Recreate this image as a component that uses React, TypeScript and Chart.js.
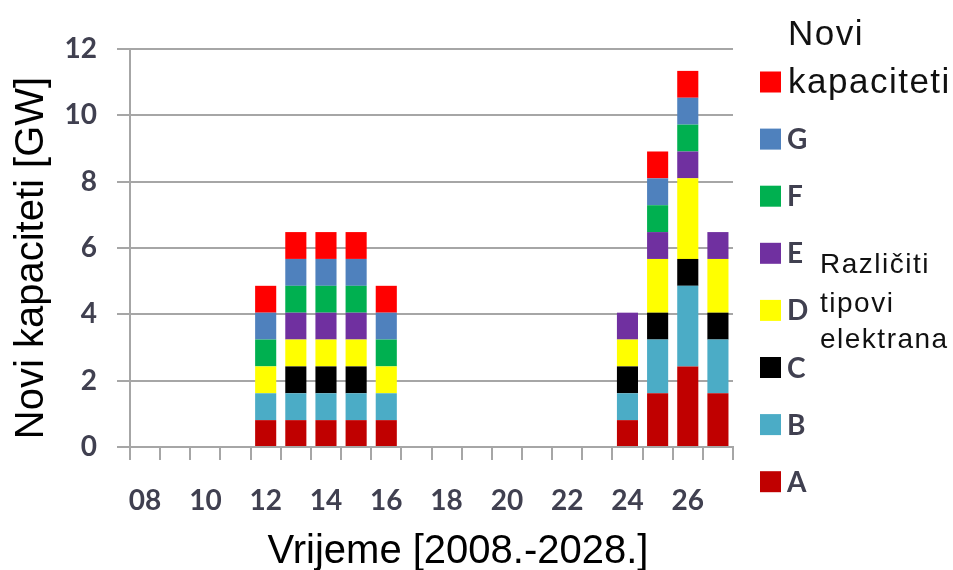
import React, { useEffect, useRef } from 'react';
import { Chart, registerables } from 'chart.js';

Chart.register(...registerables);

const categories = ['08', '09', '10', '11', '12', '13', '14', '15', '16', '17', '18', '19', '20', '21', '22', '23', '24', '25', '26', '27'];
const shownTickLabels = ['08', '10', '12', '14', '16', '18', '20', '22', '24', '26'];

const seriesA = [0, 0, 0, 0, 0.81, 0.81, 0.81, 0.81, 0.81, 0, 0, 0, 0, 0, 0, 0, 0.81, 1.62, 2.43, 1.62];
const seriesB = [0, 0, 0, 0, 0.81, 0.81, 0.81, 0.81, 0.81, 0, 0, 0, 0, 0, 0, 0, 0.81, 1.62, 2.43, 1.62];
const seriesC = [0, 0, 0, 0, 0, 0.81, 0.81, 0.81, 0, 0, 0, 0, 0, 0, 0, 0, 0.81, 0.81, 0.81, 0.81];
const seriesD = [0, 0, 0, 0, 0.81, 0.81, 0.81, 0.81, 0.81, 0, 0, 0, 0, 0, 0, 0, 0.81, 1.62, 2.43, 1.62];
const seriesE = [0, 0, 0, 0, 0, 0.81, 0.81, 0.81, 0, 0, 0, 0, 0, 0, 0, 0, 0.81, 0.81, 0.81, 0.81];
const seriesF = [0, 0, 0, 0, 0.81, 0.81, 0.81, 0.81, 0.81, 0, 0, 0, 0, 0, 0, 0, 0, 0.81, 0.81, 0];
const seriesG = [0, 0, 0, 0, 0.81, 0.81, 0.81, 0.81, 0.81, 0, 0, 0, 0, 0, 0, 0, 0, 0.81, 0.81, 0];
const seriesNovi = [0, 0, 0, 0, 0.81, 0.81, 0.81, 0.81, 0.81, 0, 0, 0, 0, 0, 0, 0, 0, 0.81, 0.81, 0];

const seriesLabels = ['A', 'B', 'C', 'D', 'E', 'F', 'G', 'Novi kapaciteti'];
const seriesColors = ['#C00000', '#4BACC6', '#000000', '#FFFF00', '#7030A0', '#00B050', '#4F81BD', '#FF0000'];
const seriesValues = [seriesA, seriesB, seriesC, seriesD, seriesE, seriesF, seriesG, seriesNovi];

const yMin = 0;
const yMax = 12;
const yStep = 2;

const yTitle = 'Novi kapaciteti [GW]';
const xTitle = 'Vrijeme [2008.-2028.]';
const noteLines = ['Različiti', 'tipovi', 'elektrana'];

const overlayPlugin = {
  id: 'overlay',
  afterDraw(chart: any) {
    const ctx = chart.ctx as CanvasRenderingContext2D;
    ctx.save();
    // custom legend (reversed order)
    const ds = chart.data.datasets.slice().reverse();
    const x0 = 760;
    const size = 21;
    const top = 82;
    const gap = 57.1;
    ctx.textAlign = 'left';
    ctx.textBaseline = 'alphabetic';
    ds.forEach((d: any, i: number) => {
      const cy = top + i * gap;
      ctx.fillStyle = d.backgroundColor;
      ctx.fillRect(x0, cy - size / 2, size, size);
      const words = String(d.label).split(' ');
      if (words.length > 1) {
        ctx.font = '35px "Liberation Sans"';
        (ctx as any).letterSpacing = '1.5px';
        ctx.fillStyle = '#111111';
        ctx.fillText(words.slice(1).join(' '), 788, cy + 11);
        ctx.fillText(words[0], 788, cy - 37);
      } else {
        ctx.font = 'bold 28px Lato';
        (ctx as any).letterSpacing = '0px';
        ctx.fillStyle = '#404050';
        ctx.fillText(d.label, 787, cy + 10);
      }
    });
    // annotation
    ctx.font = '28px "Liberation Sans"';
    (ctx as any).letterSpacing = '1.5px';
    ctx.fillStyle = '#111111';
    const noteY = [273, 312, 348];
    noteLines.forEach((t, i) => ctx.fillText(t, 820, noteY[i]));
    // axis titles
    (ctx as any).letterSpacing = '0px';
    ctx.font = '40px "Liberation Sans"';
    ctx.fillStyle = '#000000';
    ctx.textAlign = 'center';
    ctx.fillText(xTitle, 458, 563);
    ctx.save();
    ctx.translate(43, 258);
    ctx.rotate(-Math.PI / 2);
    ctx.fillText(yTitle, 0, 0);
    ctx.restore();
    ctx.restore();
  },
};

export default function App() {
  const ref = useRef<HTMLCanvasElement | null>(null);
  useEffect(() => {
    if (!ref.current) return;
    const chart = new Chart(ref.current, {
      type: 'bar',
      data: {
        labels: categories,
        datasets: seriesLabels.map((label, i) => ({
          label,
          data: seriesValues[i],
          backgroundColor: seriesColors[i],
          borderWidth: 0,
          barPercentage: 0.7,
          categoryPercentage: 1,
        })),
      },
      options: {
        responsive: false,
        animation: false,
        layout: { padding: { left: 0, top: 49, right: 220, bottom: 0 } },
        plugins: {
          legend: { display: false },
          tooltip: { enabled: false },
          title: { display: false },
        },
        scales: {
          x: {
            stacked: true,
            grid: {
              display: true,
              drawOnChartArea: false,
              drawTicks: true,
              tickLength: 13,
              color: '#a6a6a6',
              lineWidth: 2,
              offset: true,
            },
            border: { display: true, color: '#a6a6a6', width: 2 },
            ticks: {
              autoSkip: false,
              maxRotation: 0,
              minRotation: 0,
              padding: 24,
              color: '#404050',
              font: { family: 'Lato', size: 28, weight: 'bold' },
              callback: function (this: any, value: any) {
                const lbl = categories[value as number];
                return shownTickLabels.includes(lbl) ? lbl : '';
              },
            },
            afterFit: (scale: any) => {
              scale.height = 123;
            },
          },
          y: {
            stacked: true,
            min: yMin,
            max: yMax,
            grid: {
              color: '#a6a6a6',
              lineWidth: 2,
              tickLength: 13,
              drawTicks: true,
            },
            border: { display: true, color: '#a6a6a6', width: 2 },
            ticks: {
              stepSize: yStep,
              padding: 20,
              color: '#404050',
              font: { family: 'Lato', size: 28, weight: 'bold' },
            },
            afterFit: (scale: any) => {
              scale.width = 130;
            },
          },
        },
      },
      plugins: [overlayPlugin],
    });
    return () => chart.destroy();
  }, []);
  return (
    <div style={{ position: 'absolute', left: 0, top: 0, width: 953, height: 570, background: '#ffffff' }}>
      <canvas ref={ref} width={953} height={570} style={{ width: 953, height: 570, display: 'block' }} />
    </div>
  );
}
